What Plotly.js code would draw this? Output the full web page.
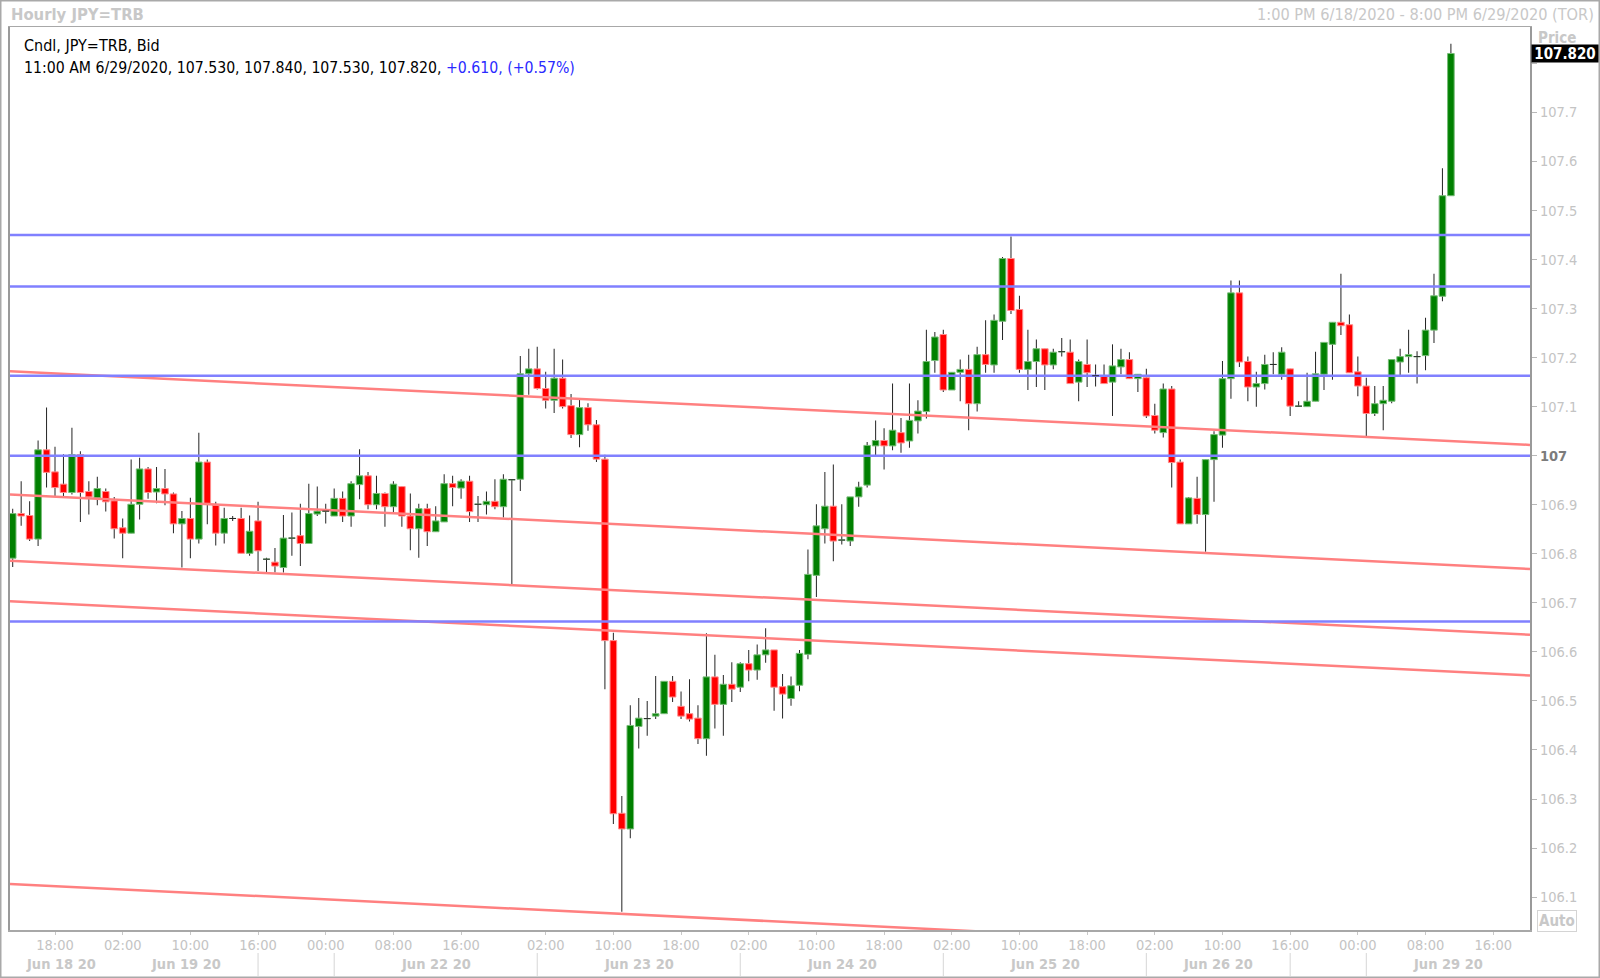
<!DOCTYPE html>
<html><head><meta charset="utf-8">
<script src="https://cdn.plot.ly/plotly-3.0.1.min.js"></script>
<style>html,body{margin:0;padding:0;background:#fff;overflow:hidden}#chart{width:1600px;height:978px}</style>
</head><body><div id="chart"></div>
<script>
// ---- data (hourly candles, 1 PM 6/18/2020 .. 11 AM 6/29/2020, TOR time) ----
const openP = [106.791,106.882,106.878,106.830,107.012,106.967,106.942,106.925,107.002,106.927,
106.914,106.927,106.908,106.853,106.842,106.901,106.973,106.926,106.933,106.922,
106.861,106.872,106.830,106.987,106.899,106.842,106.872,106.872,106.801,106.867,
106.789,106.783,106.772,106.832,106.837,106.821,106.881,106.887,106.877,106.913,
106.877,106.941,106.959,106.900,106.923,106.896,106.937,106.877,106.851,106.892,
106.845,106.865,106.943,106.934,106.948,106.901,106.900,106.907,106.896,106.951,
106.952,107.167,107.177,107.137,107.113,107.158,107.102,107.043,107.098,107.063,
106.993,106.623,106.271,106.239,106.448,106.464,106.469,106.474,106.540,106.489,
106.474,106.465,106.423,106.549,106.493,106.534,106.528,106.576,106.563,106.594,
106.604,106.529,106.505,106.532,106.595,106.756,106.851,106.897,106.828,106.826,
106.916,106.940,107.020,107.031,107.020,107.047,107.030,107.071,107.090,107.194,
107.247,107.134,107.170,107.176,107.106,107.206,107.185,107.274,107.402,107.298,
107.176,107.192,107.218,107.185,107.212,107.211,107.150,107.186,107.163,107.162,
107.150,107.181,107.196,107.157,107.159,107.082,107.047,107.136,106.987,106.861,
106.913,106.880,106.992,107.042,107.157,107.332,107.192,107.140,107.147,107.186,
107.166,107.177,107.101,107.100,107.111,107.166,107.227,107.272,107.267,107.171,
107.142,107.086,107.106,107.111,107.191,107.202,107.202,107.204,107.256,107.325,
107.530];
const highP = [106.892,106.948,106.907,107.031,107.098,107.018,107.003,107.057,107.009,106.948,
106.957,106.933,106.916,106.872,106.992,106.996,106.977,106.977,106.973,106.925,
106.887,106.914,107.047,106.992,106.906,106.894,106.877,106.894,106.878,106.906,
106.792,106.812,106.879,106.884,106.902,106.943,106.937,106.902,106.933,106.927,
106.948,107.013,106.967,106.959,106.925,106.948,106.938,106.923,106.902,106.902,
106.897,106.962,106.959,106.952,106.959,106.918,106.927,106.952,106.962,106.951,
107.203,107.218,107.222,107.171,107.218,107.196,107.126,107.114,107.107,107.073,
107.002,106.639,106.306,106.491,106.506,106.500,106.551,106.540,106.551,106.519,
106.544,106.491,106.638,106.594,106.553,106.579,106.579,106.604,106.615,106.648,
106.604,106.555,106.550,106.604,106.809,106.901,106.967,106.982,106.901,106.916,
106.947,107.028,107.072,107.056,107.147,107.077,107.147,107.113,107.257,107.252,
107.257,107.170,107.196,107.206,107.222,107.276,107.288,107.405,107.447,107.326,
107.257,107.237,107.218,107.218,107.240,107.237,107.196,107.237,107.186,107.186,
107.227,107.218,107.211,107.166,107.177,107.106,107.147,107.142,106.992,106.916,
106.957,106.992,107.050,107.193,107.357,107.357,107.202,107.171,107.206,107.211,
107.221,107.177,107.111,107.169,107.212,107.231,107.272,107.371,107.288,107.202,
107.159,107.142,107.142,107.196,107.218,107.257,107.213,107.281,107.371,107.586,
107.840];
const lowP = [106.773,106.857,106.826,106.816,106.935,106.918,106.918,106.921,106.865,106.880,
106.899,106.886,106.831,106.791,106.842,106.870,106.912,106.903,106.899,106.842,
106.772,106.791,106.821,106.860,106.817,106.821,106.867,106.801,106.796,106.765,
106.763,106.762,106.762,106.796,106.775,106.821,106.877,106.862,106.877,106.865,
106.855,106.911,106.891,106.891,106.855,106.884,106.855,106.807,106.792,106.816,
106.845,106.865,106.897,106.912,106.865,106.865,106.880,106.891,106.874,106.736,
106.928,107.124,107.135,107.096,107.087,107.096,107.036,107.017,107.051,106.987,
106.524,106.249,106.070,106.220,106.403,106.429,106.463,106.474,106.498,106.463,
106.458,106.412,106.388,106.444,106.429,106.498,106.518,106.540,106.543,106.578,
106.480,106.464,106.490,106.520,106.585,106.712,106.821,106.785,106.819,106.816,
106.896,106.935,107.001,106.972,107.011,107.006,107.016,107.045,107.076,107.169,
107.130,107.134,107.111,107.052,107.090,107.169,107.169,107.236,107.289,107.169,
107.134,107.140,107.134,107.176,107.202,107.147,107.111,107.140,107.141,107.147,
107.081,107.166,107.157,107.130,107.077,107.045,107.037,106.935,106.861,106.861,
106.861,106.804,106.906,107.016,107.116,107.181,107.111,107.100,107.135,107.166,
107.155,107.081,107.100,107.100,107.111,107.134,107.155,107.246,107.169,107.121,
107.040,107.081,107.052,107.107,107.164,107.169,107.147,107.174,107.230,107.315,
107.530];
const closeP = [106.882,106.877,106.830,107.012,106.966,106.935,106.925,107.002,106.925,106.916,
106.933,106.906,106.851,106.842,106.901,106.973,106.925,106.933,106.922,106.861,
106.872,106.830,106.987,106.903,106.842,106.872,106.872,106.801,106.846,106.806,
106.789,106.775,106.832,106.832,106.821,106.882,106.887,106.887,106.913,106.877,
106.943,106.959,106.900,106.923,106.896,106.942,106.877,106.851,106.892,106.845,
106.867,106.943,106.935,106.948,106.886,106.901,106.907,106.896,106.952,106.951,
107.167,107.177,107.137,107.113,107.158,107.100,107.043,107.098,107.063,106.993,
106.623,106.270,106.239,106.450,106.465,106.464,106.474,106.540,106.508,106.469,
106.463,106.423,106.549,106.493,106.534,106.524,106.576,106.563,106.594,106.604,
106.528,106.514,106.531,106.597,106.758,106.857,106.897,106.826,106.828,106.916,
106.936,107.021,107.031,107.020,107.052,107.026,107.072,107.091,107.192,107.242,
107.134,107.170,107.176,107.106,107.206,107.186,107.276,107.402,107.296,107.176,
107.192,107.218,107.185,107.211,107.212,107.147,107.192,107.169,107.163,107.147,
107.183,107.196,107.157,107.166,107.081,107.052,107.136,106.986,106.861,106.914,
106.880,106.992,107.043,107.157,107.332,107.191,107.140,107.147,107.186,107.186,
107.211,107.101,107.101,107.111,107.167,107.231,107.272,107.265,107.169,107.142,
107.086,107.106,107.113,107.196,107.202,107.206,107.202,107.256,107.326,107.530,
107.820];

const lastTime = '11:00 AM 6/29/2020';
const quoteChange = 0.610;
const quoteChangePct = 0.57;

// x-axis ticks (candle index) and labels
const tickIdx = [5,13,21,29,37,45,53,63,71,79,87,95,103,111,119,127,135,143,151,159,167,175];
const tickLabels = ['18:00','02:00','10:00','16:00','00:00','08:00','16:00','02:00','10:00','18:00','02:00',
  '10:00','18:00','02:00','10:00','18:00','02:00','10:00','16:00','00:00','08:00','16:00'];
const dayLabels = ['Jun 18 20','Jun 19 20','Jun 22 20','Jun 23 20','Jun 24 20','Jun 25 20','Jun 26 20','Jun 29 20'];
const dayLabelIdx = [5.7, 20.5, 50, 74, 98, 122, 142.5, 169.7];
const daySeparatorIdx = [29, 38, 62, 86, 110, 134, 151, 160];

// y-axis ticks (107.8 sits under the last-price box, label hidden)
const yTickVals = [106.1,106.2,106.3,106.4,106.5,106.6,106.7,106.8,106.9,107.0,107.1,107.2,107.3,107.4,107.5,107.6,107.7,107.8];
const yTickHidden = [107.8];

// drawn lines
const levelLines = [107.45, 107.345, 107.163, 107.0, 106.662];
const trendLeft = [107.172, 106.921, 106.786, 106.703, 106.127];
const trendRight = [107.022, 106.769, 106.635, 106.552, 105.975];

// ---- build ----
const F = "'DejaVu Sans Condensed', 'Liberation Sans', sans-serif";
const xr0 = -0.32, xr1 = 179.35;
const PL = 10, PR = 1530, PT = 27, PB = 930;
const pxX = x => (x - PL) / (PR - PL);
const pxY = y => (PB - y) / (PB - PT);

const xs = openP.map((_, i) => i);
const up = xs.map(i => closeP[i] >= openP[i]);

const traces = [];
traces.push({
  type: 'bar', x: xs, base: lowP, y: xs.map(i => highP[i] - lowP[i]), width: 0.12,
  marker: {color: '#262626', line: {width: 0}}, hoverinfo: 'skip', showlegend: false
});
traces.push({
  type: 'bar', x: xs, base: xs.map(i => Math.min(openP[i], closeP[i])),
  y: xs.map(i => Math.abs(closeP[i] - openP[i])), width: 0.78,
  marker: {color: up.map(u => u ? '#008000' : '#ff0000'),
           line: {width: 1, color: up.map(u => u ? '#78bc78' : '#ff8c8c')}},
  hoverinfo: 'skip', showlegend: false
});
trendLeft.forEach((v, k) => traces.push({
  type: 'scatter', mode: 'lines', x: [xr0, xr1], y: [v, trendRight[k]],
  line: {color: '#ff8080', width: 2.5}, hoverinfo: 'skip', showlegend: false
}));
levelLines.forEach(v => traces.push({
  type: 'scatter', mode: 'lines', x: [xr0, xr1], y: [v, v],
  line: {color: '#8080ff', width: 2.5}, hoverinfo: 'skip', showlegend: false
}));
const dx = [], dy = [];
xs.forEach(i => {
  if (Math.abs(closeP[i] - openP[i]) < 0.002) {
    const m = (openP[i] + closeP[i]) / 2;
    dx.push(i - 0.4, i + 0.4, null); dy.push(m, m, null);
  }
});
traces.push({type: 'scatter', mode: 'lines', x: dx, y: dy, line: {color: '#262626', width: 1},
  hoverinfo: 'skip', showlegend: false});

const N = closeP.length;
const fmt = v => v.toFixed(3);
const line2 = lastTime + ', ' + fmt(openP[N-1]) + ', ' + fmt(highP[N-1]) + ', ' + fmt(lowP[N-1]) + ', ' +
  fmt(closeP[N-1]) + ', <span style="color:#2a2aff">+' + quoteChange.toFixed(3) + ', (+' + quoteChangePct.toFixed(2) + '%)</span>';

const annotations = [
  {xref:'paper', yref:'paper', x:pxX(9), y:pxY(15), xanchor:'left', yanchor:'middle', showarrow:false,
   text:'<b>Hourly JPY=TRB</b>', font:{family:F, size:16.5, color:'#c8c8c8'}},
  {xref:'paper', yref:'paper', x:pxX(1596), y:pxY(15), xanchor:'right', yanchor:'middle', showarrow:false,
   text:'1:00 PM 6/18/2020 - 8:00 PM 6/29/2020 (TOR)', font:{family:F, size:16.2, color:'#c8c8c8'}},
  {xref:'paper', yref:'paper', x:pxX(22), y:pxY(46), xanchor:'left', yanchor:'middle', showarrow:false,
   text:'Cndl, JPY=TRB, Bid', font:{family:F, size:16, color:'#000'}},
  {xref:'paper', yref:'paper', x:pxX(22), y:pxY(67), xanchor:'left', yanchor:'middle', showarrow:false,
   text:line2, font:{family:F, size:15.7, color:'#000'}},
  {xref:'paper', yref:'paper', x:pxX(1536), y:pxY(38), xanchor:'left', yanchor:'middle', showarrow:false,
   text:'<b>Price</b>', font:{family:F, size:15, color:'#c8c8c8'}},
  {xref:'paper', yref:'paper', x:pxX(1531), y:pxY(53), xanchor:'left', yanchor:'middle', showarrow:false,
   text:'<b>' + fmt(closeP[N-1]) + '</b>', font:{family:F, size:15, color:'#fff'},
   bgcolor:'#000', borderpad:1, width:64, height:15},
  {xref:'paper', yref:'paper', x:pxX(1537), y:pxY(920.5), xanchor:'left', yanchor:'middle', showarrow:false,
   text:'<b>Auto</b>', font:{family:F, size:15, color:'#c8c8c8'},
   bgcolor:'#fff', bordercolor:'#d4d4d4', borderwidth:1, borderpad:1}
];
dayLabels.forEach((t, k) => annotations.push({
  xref:'x', yref:'paper', x:dayLabelIdx[k], y:pxY(964), xanchor:'center', yanchor:'middle', showarrow:false,
  text:'<b>' + t + '</b>', font:{family:F, size:14.5, color:'#c8c8c8'}
}));

const shapes = [
  {type:'rect', xref:'paper', yref:'paper', x0:pxX(0.75), x1:pxX(1599.25), y0:pxY(977.25), y1:pxY(0.75),
   line:{color:'#a9a9a9', width:1.5}, fillcolor:'rgba(0,0,0,0)'}
];
daySeparatorIdx.forEach(v => shapes.push({
  type:'line', xref:'x', yref:'paper', x0:v, x1:v, y0:pxY(953), y1:pxY(976),
  line:{color:'#d6d6d6', width:1}
}));

const yText = yTickVals.map(v => yTickHidden.some(h => Math.abs(h - v) < 1e-9) ? '' :
  (Math.abs(v - 107) < 1e-9 ? '<span style="color:#7c7c7c"><b>107</b></span>' : v.toFixed(1)));

const layout = {
  width:1600, height:978,
  margin:{l:PL, r:1600-PR, t:PT, b:978-PB, pad:0},
  paper_bgcolor:'#fff', plot_bgcolor:'#fff',
  barmode:'overlay', showlegend:false, hovermode:false,
  font:{family:F, size:14.5, color:'#c8c8c8'},
  xaxis:{type:'linear', range:[xr0, xr1], tickmode:'array', tickvals:tickIdx, ticktext:tickLabels,
    ticks:'outside', ticklen:3, tickwidth:1, tickcolor:'#c8c8c8', ticklabelstandoff:-2,
    tickfont:{family:F, size:14.5, color:'#c4c4c4'},
    showgrid:false, zeroline:false, showline:true, linecolor:'#a8a8a8', linewidth:1.5, mirror:true, fixedrange:true},
  yaxis:{side:'right', range:[106.033, 107.874], tickmode:'array', tickvals:yTickVals, ticktext:yText,
    ticks:'outside', ticklen:5, tickwidth:1, tickcolor:'#b8b8b8',
    tickfont:{family:F, size:14.5, color:'#c4c4c4'},
    showgrid:false, zeroline:false, showline:true, linecolor:'#9a9a9a', linewidth:2, mirror:true, fixedrange:true},
  annotations:annotations, shapes:shapes
};

Plotly.newPlot('chart', traces, layout, {displayModeBar:false, staticPlot:true});
</script>
</body></html>
